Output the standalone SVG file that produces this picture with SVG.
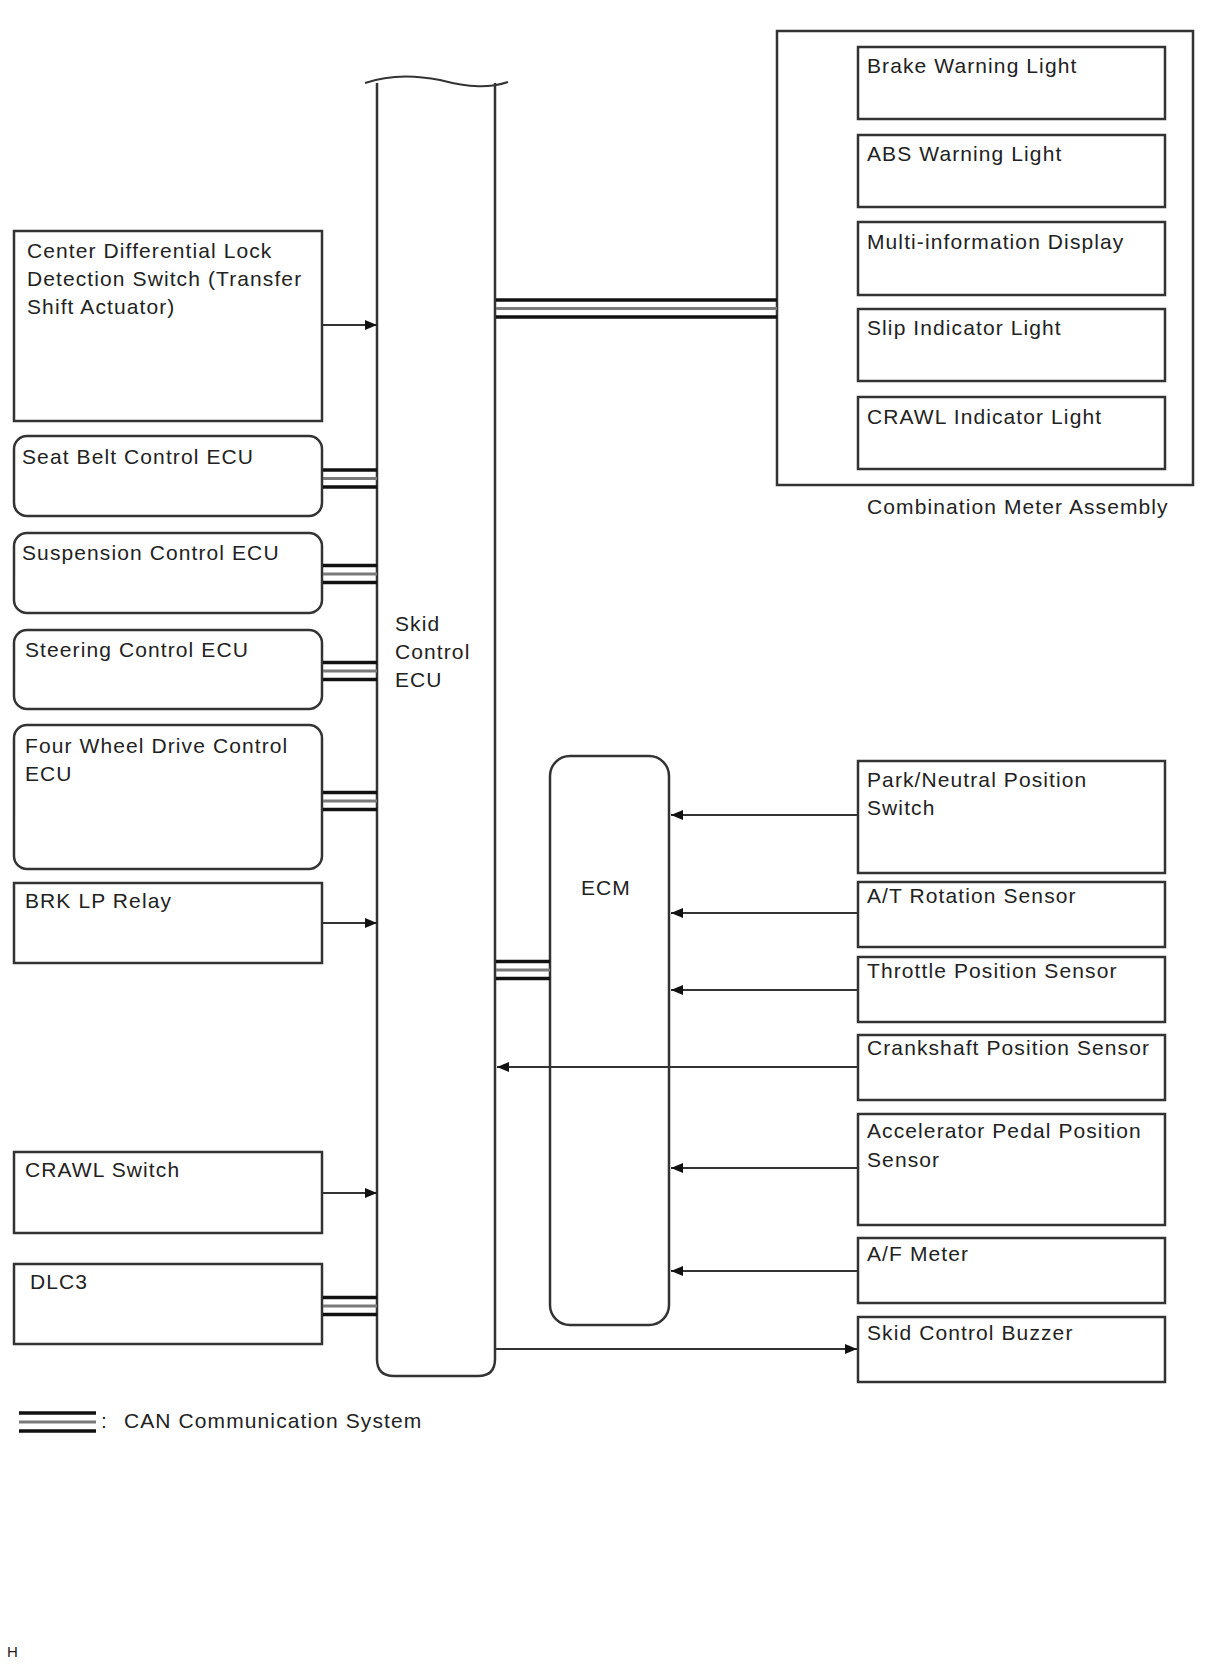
<svg xmlns="http://www.w3.org/2000/svg" width="1210" height="1668" viewBox="0 0 1210 1668">
<defs>
<style>
.box{fill:#fff;stroke:#333;stroke-width:2.5}
.t{font-family:"Liberation Sans",Arial,sans-serif;font-size:21px;letter-spacing:1.1px;fill:#222}
.ln{stroke:#333;stroke-width:1.8;fill:none}
.co{stroke:#111;stroke-width:3.6;fill:none}
.cm{stroke:#7a7a7a;stroke-width:3;fill:none}
</style>
<marker id="ah" viewBox="0 0 12 10" refX="12" refY="5" markerWidth="12" markerHeight="10" markerUnits="userSpaceOnUse" orient="auto">
<path d="M0,0 L12,5 L0,10 z" fill="#111"/>
</marker>
</defs>
<rect width="1210" height="1668" fill="#fff"/>

<g id="skid-ecu">
<path class="box" d="M377,83 L377,1359 Q377,1376 394,1376 L478,1376 Q495,1376 495,1359 L495,83" />
<path d="M365,83 C385,76 410,74 440,80 C470,88 490,88 508,82" stroke="#333" stroke-width="2" fill="none"/>
<text class="t" x="395" y="631">Skid</text>
<text class="t" x="395" y="659">Control</text>
<text class="t" x="395" y="687">ECU</text>
</g>

<g id="center-diff"><rect class="box" x="14" y="231" width="308" height="190"/>
<text class="t" x="27" y="258">Center Differential Lock</text>
<text class="t" x="27" y="286">Detection Switch (Transfer</text>
<text class="t" x="27" y="314">Shift Actuator)</text></g>
<g id="seat-belt"><rect class="box" x="14" y="436" width="308" height="80" rx="13"/>
<text class="t" x="22" y="464">Seat Belt Control ECU</text></g>
<g id="suspension"><rect class="box" x="14" y="533" width="308" height="80" rx="13"/>
<text class="t" x="22" y="560">Suspension Control ECU</text></g>
<g id="steering"><rect class="box" x="14" y="630" width="308" height="79" rx="13"/>
<text class="t" x="25" y="657">Steering Control ECU</text></g>
<g id="four-wheel"><rect class="box" x="14" y="725" width="308" height="144" rx="13"/>
<text class="t" x="25" y="753">Four Wheel Drive Control</text>
<text class="t" x="25" y="781">ECU</text></g>
<g id="brk-lp"><rect class="box" x="14" y="883" width="308" height="80"/>
<text class="t" x="25" y="908">BRK LP Relay</text></g>
<g id="crawl-switch"><rect class="box" x="14" y="1152" width="308" height="81"/>
<text class="t" x="25" y="1177">CRAWL Switch</text></g>
<g id="dlc3"><rect class="box" x="14" y="1264" width="308" height="80"/>
<text class="t" x="30" y="1289">DLC3</text></g>

<g id="combination-meter"><rect class="box" x="777" y="31" width="416" height="454"/>
<text class="t" x="867" y="514">Combination Meter Assembly</text></g>
<g id="brake-warning"><rect class="box" x="858" y="47" width="307" height="72"/>
<text class="t" x="867" y="73">Brake Warning Light</text></g>
<g id="abs-warning"><rect class="box" x="858" y="135" width="307" height="72"/>
<text class="t" x="867" y="161">ABS Warning Light</text></g>
<g id="multi-info"><rect class="box" x="858" y="222" width="307" height="73"/>
<text class="t" x="867" y="249">Multi-information Display</text></g>
<g id="slip-indicator"><rect class="box" x="858" y="309" width="307" height="72"/>
<text class="t" x="867" y="335">Slip Indicator Light</text></g>
<g id="crawl-indicator"><rect class="box" x="858" y="397" width="307" height="72"/>
<text class="t" x="867" y="424">CRAWL Indicator Light</text></g>

<g id="ecm"><rect class="box" x="550" y="756" width="119" height="569" rx="20"/>
<text class="t" x="581" y="895">ECM</text></g>

<g id="park-neutral"><rect class="box" x="858" y="761" width="307" height="112"/>
<text class="t" x="867" y="787">Park/Neutral Position</text>
<text class="t" x="867" y="815">Switch</text></g>
<g id="at-rotation"><rect class="box" x="858" y="882" width="307" height="65"/>
<text class="t" x="867" y="903">A/T Rotation Sensor</text></g>
<g id="throttle"><rect class="box" x="858" y="957" width="307" height="65"/>
<text class="t" x="867" y="978">Throttle Position Sensor</text></g>
<g id="crankshaft"><rect class="box" x="858" y="1035" width="307" height="65"/>
<text class="t" x="867" y="1055">Crankshaft Position Sensor</text></g>
<g id="accelerator"><rect class="box" x="858" y="1114" width="307" height="111"/>
<text class="t" x="867" y="1138">Accelerator Pedal Position</text>
<text class="t" x="867" y="1167">Sensor</text></g>
<g id="af-meter"><rect class="box" x="858" y="1238" width="307" height="65"/>
<text class="t" x="867" y="1261">A/F Meter</text></g>
<g id="buzzer"><rect class="box" x="858" y="1317" width="307" height="65"/>
<text class="t" x="867" y="1340">Skid Control Buzzer</text></g>

<g id="connectors">
<line class="ln" x1="323" y1="325" x2="377" y2="325" marker-end="url(#ah)"/>
<line class="ln" x1="323" y1="923" x2="377" y2="923" marker-end="url(#ah)"/>
<line class="ln" x1="323" y1="1193" x2="377" y2="1193" marker-end="url(#ah)"/>
<line class="ln" x1="857" y1="815" x2="671" y2="815" marker-end="url(#ah)"/>
<line class="ln" x1="857" y1="913" x2="671" y2="913" marker-end="url(#ah)"/>
<line class="ln" x1="857" y1="990" x2="671" y2="990" marker-end="url(#ah)"/>
<line class="ln" x1="857" y1="1067" x2="497" y2="1067" marker-end="url(#ah)"/>
<line class="ln" x1="857" y1="1168" x2="671" y2="1168" marker-end="url(#ah)"/>
<line class="ln" x1="857" y1="1271" x2="671" y2="1271" marker-end="url(#ah)"/>
<line class="ln" x1="496" y1="1349" x2="857" y2="1349" marker-end="url(#ah)"/>
<g id="can-lines">
<line class="co" x1="323" y1="470" x2="377" y2="470"/><line class="cm" x1="323" y1="478.5" x2="377" y2="478.5"/><line class="co" x1="323" y1="487" x2="377" y2="487"/>
<line class="co" x1="323" y1="565.5" x2="377" y2="565.5"/><line class="cm" x1="323" y1="574" x2="377" y2="574"/><line class="co" x1="323" y1="582.5" x2="377" y2="582.5"/>
<line class="co" x1="323" y1="662.5" x2="377" y2="662.5"/><line class="cm" x1="323" y1="671" x2="377" y2="671"/><line class="co" x1="323" y1="679.5" x2="377" y2="679.5"/>
<line class="co" x1="323" y1="792.5" x2="377" y2="792.5"/><line class="cm" x1="323" y1="801" x2="377" y2="801"/><line class="co" x1="323" y1="809.5" x2="377" y2="809.5"/>
<line class="co" x1="323" y1="1297.5" x2="377" y2="1297.5"/><line class="cm" x1="323" y1="1306" x2="377" y2="1306"/><line class="co" x1="323" y1="1314.5" x2="377" y2="1314.5"/>
<line class="co" x1="496" y1="300" x2="777" y2="300"/><line class="cm" x1="496" y1="308.5" x2="777" y2="308.5"/><line class="co" x1="496" y1="317" x2="777" y2="317"/>
<line class="co" x1="496" y1="961.5" x2="550" y2="961.5"/><line class="cm" x1="496" y1="970" x2="550" y2="970"/><line class="co" x1="496" y1="978.5" x2="550" y2="978.5"/>
</g>
</g>

<g id="legend">
<line class="co" x1="19" y1="1413" x2="96" y2="1413"/><line class="cm" x1="19" y1="1422" x2="96" y2="1422"/><line class="co" x1="19" y1="1431" x2="96" y2="1431"/>
<text class="t" x="101" y="1428">:</text>
<text class="t" x="124" y="1428">CAN Communication System</text>
</g>
<text x="7" y="1657" style="font-family:'Liberation Sans',Arial,sans-serif;font-size:15px;fill:#222">H</text>
</svg>
